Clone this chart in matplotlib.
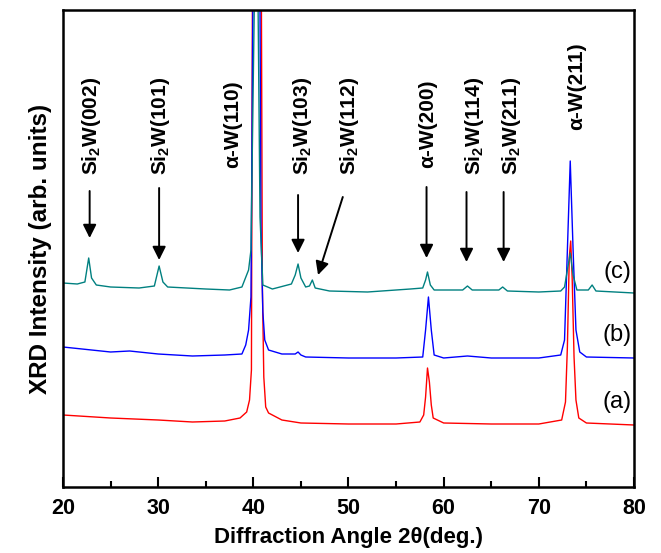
#!/usr/bin/env python3
import matplotlib
matplotlib.use("Agg")
import matplotlib.pyplot as plt
from matplotlib.ticker import MultipleLocator

plt.rcParams['font.family'] = ['Liberation Sans', 'DejaVu Sans']
plt.rcParams['mathtext.fontset'] = 'custom'
plt.rcParams['mathtext.rm'] = 'Liberation Sans'
plt.rcParams['mathtext.bf'] = 'Liberation Sans:bold'

# XRD traces (2theta, intensity in arb. units)
x_a = [20, 25, 30, 33.6, 37, 38.6, 39.3, 39.6, 39.8, 39.9, 40.35, 40.85, 40.95, 41.1, 41.3, 41.6,
       43, 45, 50, 55, 57.5, 57.9, 58.1, 58.3, 58.5, 58.7, 58.9, 60, 65, 70, 72.4, 72.8, 73.0,
       73.2, 73.35, 73.5, 73.7, 73.9, 74.2, 75, 80]
y_a = [72, 69, 67, 65, 66, 69, 75, 87, 117, 480, 1800, 480, 200, 110, 80, 74,
       67, 64, 63, 63, 65, 72, 90, 119, 105, 82, 69, 64, 63, 63, 67, 85, 140,
       230, 246, 210, 130, 87, 69, 64, 62]

x_b = [20, 22, 25, 27, 30, 33.6, 37, 38.8, 39.2, 39.5, 39.75, 39.95, 40.3, 40.7, 40.8, 41.0, 41.2,
       41.6, 43, 44.4, 44.7, 45.0, 45.5, 50, 55, 57.8, 58.1, 58.4, 58.7, 59.0, 60, 62.5, 65, 70,
       72.3, 72.7, 73.0, 73.3, 73.6, 73.9, 74.3, 75, 80]
y_b = [140, 138, 135, 136, 133, 131, 132, 133, 142, 157, 190, 480, 1800, 480, 260, 175, 147,
       137, 133, 133, 135, 132, 130, 129, 129, 130, 157, 190, 157, 132, 129, 131, 129, 129,
       132, 147, 237, 326, 237, 157, 135, 130, 129]

x_c = [20, 21.5, 22.3, 22.7, 23.0, 23.5, 25, 28, 29.6, 30.1, 30.5, 31, 35, 37.5, 38.8, 39.5,
       39.75, 40.1, 40.3, 40.5, 40.7, 41, 42, 44.0, 44.4, 44.7, 45.0, 45.5, 45.9, 46.2, 46.5,
       48, 52, 55, 56.5, 57.8, 58.1, 58.3, 58.6, 59, 62, 62.5, 63, 65.8, 66.2, 66.7, 70,
       72.3, 72.7, 73.0, 73.3, 73.6, 74.0, 75.2, 75.6, 76.0, 80]
y_c = [204, 203, 205, 229, 209, 202, 200, 199, 201, 221, 205, 200, 198, 197, 200, 217,
       237, 480, 1800, 480, 270, 202, 198, 203, 212, 223, 209, 200, 201, 207, 199,
       196, 195, 197, 198, 199, 207, 215, 202, 197, 197, 201, 197, 197, 200, 196, 195,
       196, 200, 217, 234, 212, 197, 197, 202, 196, 194]

# peak labels: text, label x, label bottom y, arrow tail (x, y), arrow tip (x, y)
labels = [r'Si$_\mathbf{2}$W(002)', r'Si$_\mathbf{2}$W(101)', r'α-W(110)', r'Si$_\mathbf{2}$W(103)',
          r'Si$_\mathbf{2}$W(112)', r'α-W(200)', r'Si$_\mathbf{2}$W(114)', r'Si$_\mathbf{2}$W(211)',
          r'α-W(211)']
label_x = [23.0, 30.2, 37.8, 45.2, 50.1, 58.3, 63.2, 67.1, 74.0]
label_y = [312, 312, 319, 312, 312, 319, 312, 312, 357]
arrow_from = [(22.8, 296), (30.1, 299), None, (44.7, 292), (49.4, 290), (58.2, 300),
              (62.4, 295), (66.3, 295)]
arrow_to = [(22.8, 249), (30.1, 227), None, (44.7, 234), (46.8, 212), (58.2, 229),
            (62.4, 225), (66.3, 225)]

fig = plt.figure(figsize=(6.61, 5.53), dpi=100)
ax = fig.add_axes([63 / 661, 66 / 553, 571 / 661, 477 / 553])

ax.plot(x_a, y_a, color='#ff0000', lw=1.0)
ax.plot(x_b, y_b, color='#0000ff', lw=1.0)
ax.plot(x_c, y_c, color='#008080', lw=1.0)

for i, t in enumerate(labels):
    ax.text(label_x[i], label_y[i], t, rotation=90, ha='center', va='bottom',
            fontsize=15, fontweight='bold')
    if i < len(arrow_from) and arrow_from[i] is not None:
        ax.annotate('', xy=arrow_to[i], xytext=arrow_from[i],
                    arrowprops=dict(arrowstyle='-|>', color='k', lw=1.4,
                                    mutation_scale=20, shrinkA=0, shrinkB=0))

ax.text(79.7, 215, '(c)', ha='right', va='center', fontsize=17)
ax.text(79.7, 152, '(b)', ha='right', va='center', fontsize=17)
ax.text(79.7, 85, '(a)', ha='right', va='center', fontsize=17)

ax.set_xlim(20, 80)
ax.set_ylim(0, 477)
ax.xaxis.set_major_locator(MultipleLocator(10))
ax.xaxis.set_minor_locator(MultipleLocator(5))
ax.set_yticks([])
ax.tick_params(axis='x', which='major', direction='in', length=7, width=1.5,
               labelsize=15.5, pad=8, top=False)
ax.tick_params(axis='x', which='minor', direction='in', length=4, width=1.5, top=False)
for lab in ax.get_xticklabels():
    lab.set_fontweight('bold')
for s in ax.spines.values():
    s.set_linewidth(1.8)

ax.set_xlabel('Diffraction Angle 2θ(deg.)', fontsize=16, fontweight='bold', labelpad=6)
ax.set_ylabel('XRD Intensity (arb. units)', fontsize=17.5, fontweight='bold', labelpad=8)

plt.savefig('out.png', dpi=100)
